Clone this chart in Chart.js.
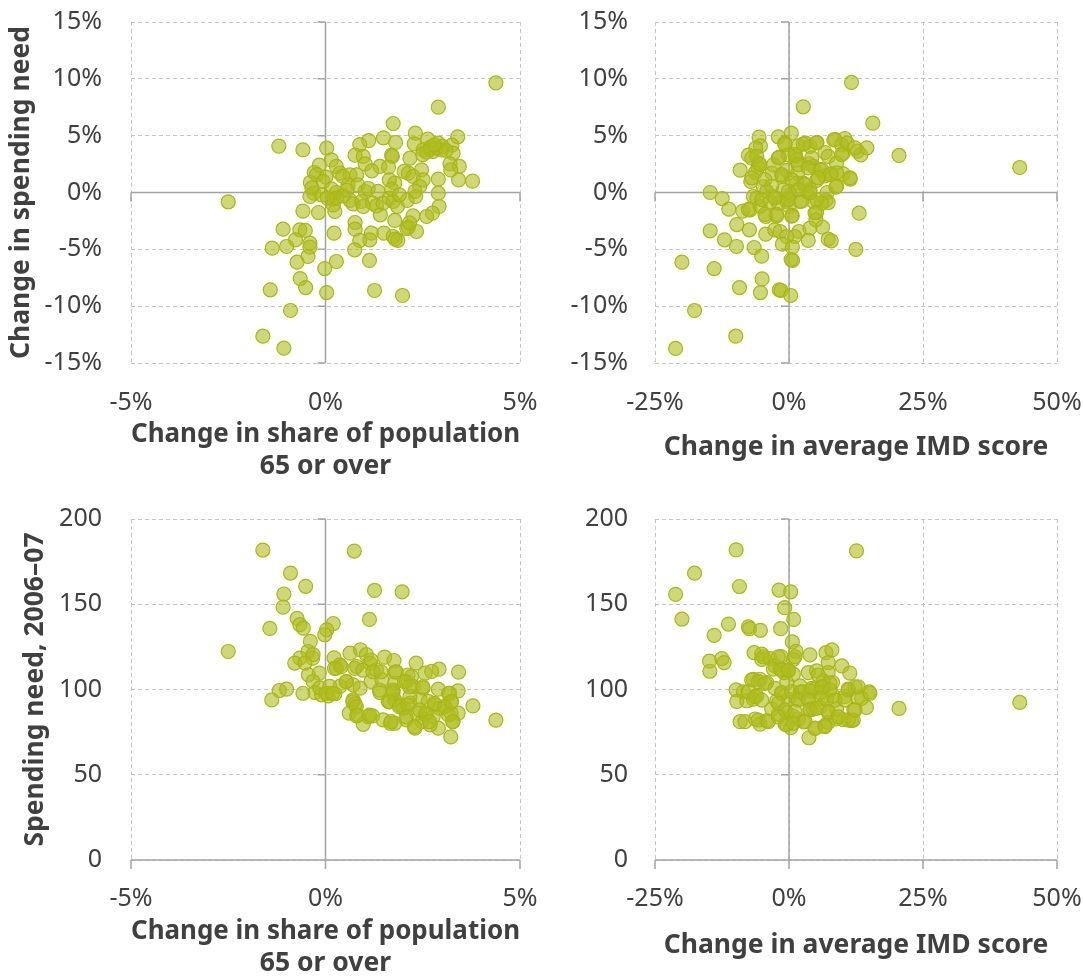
<!DOCTYPE html>
<html>
<head>
<meta charset="utf-8">
<script src="https://cdn.jsdelivr.net/npm/chart.js@4.4.1/dist/chart.umd.min.js"></script>
<style>
  html, body { margin: 0; padding: 0; background: #fff; }
  #wrap { position: relative; width: 1084px; height: 976px; overflow: hidden; }
  canvas { position: absolute; }
</style>
</head>
<body>
<div id="wrap">
  <canvas id="ageChange" width="542" height="490" style="left:0;top:0"></canvas>
  <canvas id="imdChange" width="542" height="490" style="left:542px;top:0"></canvas>
  <canvas id="ageLevel" width="542" height="500" style="left:0;top:490px"></canvas>
  <canvas id="imdLevel" width="542" height="500" style="left:542px;top:490px"></canvas>
</div>
<script>
// [change in share 65+ (%), change in spending need (%)]
const ageVsNeedChange = [
  [4.38,9.65],[2.90,7.51],[1.74,6.07],[-1.20,4.08],[-0.58,3.75],[0.03,3.90],[2.31,5.22],[3.40,4.90],
  [1.49,4.81],[1.11,4.57],[0.88,4.22],[1.80,4.40],[2.28,4.28],[2.63,4.69],[2.90,4.34],[3.25,4.16],
  [2.51,3.75],[2.77,3.61],[2.98,3.75],[3.28,3.46],[0.76,3.28],[0.97,3.17],[1.70,3.28],[1.72,3.17],
  [2.17,3.02],[0.15,2.87],[0.28,2.29],[1.02,2.52],[1.40,2.29],[1.62,2.23],[3.20,2.52],[3.44,2.29],
  [3.22,1.99],[-0.16,2.40],[-0.29,1.76],[-0.23,1.58],[0.01,1.35],[0.37,1.70],[0.63,1.55],[0.80,1.55],
  [1.19,1.91],[2.02,1.85],[2.13,1.70],[2.47,1.99],[2.25,1.41],[2.51,1.11],[2.90,1.17],[3.42,1.11],
  [3.78,1.00],[-0.39,0.88],[-0.06,0.97],[0.58,0.67],[0.83,0.67],[1.78,0.82],[1.64,1.11],[2.42,0.53],
  [2.90,-0.06],[-0.30,-0.06],[-0.40,-0.35],[0.15,0.32],[0.28,0.00],[0.20,-0.59],[1.02,0.09],[0.63,-0.70],
  [0.71,-1.00],[0.93,-0.79],[0.97,-1.23],[1.21,-0.94],[1.31,-1.17],[1.48,-0.94],[1.64,-0.50],[1.74,-0.79],
  [1.85,-1.23],[2.10,-0.70],[2.32,-0.35],[1.41,-1.96],[0.24,-1.67],[0.20,-1.09],[-0.18,-1.76],[-0.58,-1.64],
  [2.92,-1.23],[2.75,-1.82],[2.60,-2.11],[2.25,-2.05],[1.78,-2.46],[0.76,-2.64],[0.76,-3.23],[0.22,-3.58],
  [2.13,-3.05],[2.09,-3.17],[2.34,-3.43],[1.18,-3.58],[1.14,-4.16],[0.88,-4.22],[1.50,-3.58],[1.74,-3.87],
  [1.86,-4.22],[1.79,-4.11],[-1.09,-3.23],[-0.66,-3.28],[-0.52,-3.34],[-0.77,-4.16],[-0.40,-4.46],[-0.40,-4.81],
  [-1.00,-4.75],[-1.37,-4.90],[-0.45,-5.63],[-0.73,-6.13],[0.75,-5.04],[0.28,-6.07],[-0.02,-6.69],[1.13,-5.98],
  [-0.65,-7.57],[-0.51,-8.36],[-1.42,-8.56],[0.03,-8.80],[1.26,-8.62],[1.98,-9.06],[-0.90,-10.38],[-1.61,-12.64],
  [-1.07,-13.70],[-2.50,-0.82],[2.67,3.80],[2.50,3.34],[0.44,1.43],[0.28,-0.47],[2.16,-2.67],[2.70,4.00],
  [2.85,3.90],[3.00,4.05],[2.60,3.55],[3.10,3.70],[2.80,4.20],[-0.35,0.40],[-0.10,-0.20],[0.05,-0.50],
  [0.45,-0.30],[0.55,0.20],[1.10,0.35],[1.35,0.10],[1.70,0.30],[1.90,-0.20],[2.30,0.10]
];

// [change in average IMD score (%), change in spending need (%)]
const imdVsNeedChange = [
  [11.66,9.68],[2.67,7.54],[15.63,6.10],[20.53,3.26],[43.05,2.20],[-5.58,4.87],[-5.33,4.11],[-6.20,3.90],
  [-1.99,4.90],[0.43,5.22],[-0.81,4.34],[-1.80,3.11],[-7.57,3.28],[-6.95,3.02],[-5.65,2.58],[-5.77,2.20],
  [-9.12,1.96],[-6.27,1.76],[-7.13,0.97],[-3.16,1.70],[-1.24,1.41],[-0.37,1.94],[1.30,3.17],[1.74,4.11],
  [3.10,4.34],[3.91,4.05],[5.21,4.40],[3.78,2.52],[6.70,3.52],[7.32,3.17],[8.37,4.63],[10.42,4.75],
  [10.86,4.34],[10.11,3.46],[12.78,3.64],[13.40,3.31],[14.52,3.93],[8.87,2.58],[10.11,1.64],[11.41,1.17],
  [8.75,0.47],[7.13,0.00],[5.15,1.06],[6.70,1.47],[7.94,1.64],[1.61,1.70],[2.67,0.82],[3.91,0.23],
  [-4.78,0.53],[-6.64,-0.35],[-14.70,0.00],[-12.47,-0.53],[-11.23,-1.47],[-8.62,-1.64],[-7.26,-1.52],[-5.40,-1.23],
  [-3.54,-0.82],[-1.99,-0.94],[-0.43,-0.79],[0.31,-0.21],[0.06,-1.23],[2.05,-0.79],[4.53,-0.79],[6.89,-0.70],
  [7.32,-0.88],[5.15,-1.76],[-4.34,-2.11],[-2.30,-2.05],[0.62,-2.02],[5.02,-2.40],[3.91,-3.14],[6.27,-3.05],
  [-9.74,-2.82],[-7.38,-3.28],[-14.70,-3.37],[-4.34,-3.67],[-2.67,-3.28],[-1.67,-3.43],[1.86,-3.43],[1.05,-3.87],
  [-0.43,-3.87],[3.60,-4.22],[7.32,-4.11],[7.88,-4.25],[13.09,-1.82],[12.47,-5.01],[-12.03,-4.16],[-9.80,-4.75],
  [-6.51,-4.84],[-5.09,-5.60],[-1.24,-4.55],[0.62,-4.81],[0.68,-5.98],[0.40,-5.90],[-19.98,-6.13],[-13.96,-6.69],
  [-5.02,-7.60],[-9.24,-8.36],[-5.33,-8.80],[-1.80,-8.56],[-1.49,-8.62],[0.31,-9.06],[-17.62,-10.38],[-9.93,-12.64],
  [-21.15,-13.72],[-6.02,-0.50],[-4.16,0.09],[-2.92,-0.35],[-1.05,0.23],[1.43,0.82],[4.53,2.29],[5.77,1.99],
  [-2.92,2.43],[-0.12,3.31],[1.43,2.87],[3.29,0.09],[6.08,-0.94],[9.80,4.19],[-0.75,4.22],[2.67,4.28],
  [5.17,4.37],[8.58,4.66],[12.31,3.93],[-6.03,3.19],[-5.41,2.46],[-6.96,1.29],[-4.48,1.14],[-2.00,3.05],
  [1.12,3.34],[4.24,3.05],[9.83,3.34],[1.74,2.46],[3.60,2.17],[6.10,2.02],[7.65,1.58],[8.90,1.73],
  [11.38,1.29],[5.47,1.29],[2.99,0.70],[0.50,1.14],[-1.37,1.58],[-3.23,0.55],[8.90,0.55],[-5.09,-0.62],
  [-2.61,-0.47],[-0.13,-0.62],[2.36,-0.76],[5.17,-0.62],[-0.13,0.11],[1.74,0.26],[3.92,-0.03],[-4.48,-1.93],
  [-2.30,-1.93],[0.50,-2.08],[4.85,-1.79],[-7.59,-1.50]
];

// [change in share 65+ (%), spending need 2006-07]
const ageVsNeedLevel = [
  [-1.61,181.8],[0.74,181.2],[-0.90,168.3],[-0.51,160.5],[-1.07,156.0],[1.26,158.1],[1.97,157.3],[-1.09,148.3],
  [1.13,141.1],[-1.43,135.8],[-2.50,122.3],[-0.73,141.7],[-0.66,138.0],[-0.57,136.0],[0.20,138.7],[0.03,135.0],
  [-0.02,132.1],[-0.39,128.2],[-0.45,122.3],[-0.33,118.4],[-0.66,118.4],[-0.79,115.5],[-0.44,108.6],[-0.16,109.6],
  [-0.32,104.7],[0.22,118.6],[0.28,112.5],[0.37,114.5],[0.63,121.3],[0.90,123.3],[1.05,120.4],[0.80,113.5],
  [1.14,115.5],[1.52,119.0],[1.76,117.0],[1.31,111.5],[1.79,110.2],[2.33,115.5],[2.56,109.6],[2.92,111.9],
  [2.73,110.6],[3.42,110.2],[3.41,99.2],[3.79,90.4],[4.38,82.0],[3.22,72.2],[-1.19,99.4],[-1.00,100.2],
  [-1.38,93.9],[-0.58,97.8],[-0.27,98.2],[-0.10,96.9],[0.07,96.3],[0.24,97.5],[0.37,101.8],[0.54,104.7],
  [0.71,102.7],[0.89,100.8],[1.17,104.7],[1.45,105.7],[1.40,98.2],[0.71,93.9],[0.76,91.6],[0.61,86.1],
  [0.80,84.5],[0.97,79.6],[1.10,84.1],[1.21,84.5],[1.48,82.2],[1.67,80.2],[1.78,80.2],[1.74,98.8],
  [1.78,103.7],[1.61,93.0],[1.91,91.0],[2.08,82.2],[2.30,77.3],[2.08,104.7],[2.21,107.6],[2.25,101.8],
  [2.51,100.8],[2.90,100.2],[3.16,97.8],[3.24,93.0],[3.41,86.1],[3.28,81.2],[2.90,77.3],[2.69,79.3],
  [2.48,81.2],[2.01,89.0],[2.17,92.0],[2.43,93.9],[2.64,93.0],[2.81,91.0],[2.94,89.0],[3.07,90.0],
  [2.34,86.1],[2.56,85.1],[2.77,84.1],[3.16,85.1],[2.17,95.9],[1.78,93.9],[-0.32,120.4],[-0.53,115.5],
  [-0.15,101.0],[0.11,101.8],[0.23,112.4],[0.40,113.4],[0.75,112.4],[1.17,117.3],[0.96,111.4],[1.22,110.4],
  [1.43,110.4],[1.82,110.4],[2.12,108.5],[0.53,104.6],[1.39,99.7],[1.73,99.7],[2.03,104.6],[2.16,101.6],
  [2.50,101.6],[3.19,97.8],[0.02,97.8],[0.19,97.8],[0.70,92.8],[0.79,89.9],[0.83,85.0],[1.13,85.0],
  [1.69,81.1],[1.73,97.8],[1.65,92.8],[1.90,89.9],[2.12,90.9],[2.07,84.0],[2.29,78.2],[2.42,88.0],
  [2.59,86.0],[2.67,81.1],[2.80,91.9],[3.06,89.9],[3.23,86.0],[3.27,81.1],[3.23,92.8]
];

// [change in average IMD score (%), spending need 2006-07]
const imdVsNeedLevel = [
  [-9.86,181.9],[12.59,181.3],[-17.62,168.2],[-21.15,155.8],[-9.24,160.4],[-1.86,158.3],[0.31,157.3],[-0.81,148.0],
  [-19.98,141.3],[0.87,141.1],[-13.96,131.8],[-11.29,138.4],[-7.57,136.8],[-7.38,135.7],[-5.33,134.7],[-1.55,135.7],
  [0.62,127.9],[1.30,122.4],[3.91,120.3],[6.89,121.6],[8.00,123.2],[7.32,115.8],[9.86,113.8],[11.35,109.6],
  [-14.83,116.6],[-12.53,118.1],[-12.10,115.8],[-14.76,110.7],[-6.51,121.6],[-5.09,120.7],[-5.09,117.7],[-3.54,118.1],
  [-1.49,119.3],[-2.61,113.8],[-1.67,111.9],[-0.12,110.9],[0.81,117.7],[0.81,109.0],[3.60,109.9],[5.15,110.9],
  [7.32,109.9],[8.13,104.1],[6.39,105.1],[-6.64,106.0],[-5.40,106.0],[-4.16,104.1],[-9.86,99.8],[-8.50,98.6],
  [-9.74,93.0],[-7.88,93.4],[-6.64,94.3],[-6.02,96.3],[-2.30,93.4],[-1.36,98.2],[-0.12,94.3],[1.43,94.3],
  [2.05,98.2],[3.91,99.2],[4.84,100.2],[6.39,101.2],[5.77,98.2],[8.25,96.3],[10.42,95.9],[11.04,100.2],
  [12.34,101.6],[12.78,95.3],[14.95,98.6],[14.45,89.5],[12.10,88.1],[20.53,88.9],[43.05,92.4],[-9.12,81.1],
  [-6.33,82.7],[-5.40,79.7],[-4.16,81.7],[-3.23,88.5],[-1.99,85.6],[-0.74,79.7],[0.31,77.6],[1.74,82.7],
  [2.67,81.1],[3.72,71.7],[4.90,77.4],[6.70,78.8],[7.32,80.7],[8.87,82.7],[10.11,82.3],[11.66,81.7],
  [4.53,88.5],[5.77,89.5],[7.32,86.6],[8.87,88.5],[3.91,88.5],[-0.43,86.6],[0.68,84.6],[-2.92,111.9],
  [-0.43,104.1],[2.05,102.1],[7.01,94.3],[3.29,95.3],[-0.93,109.9],[-4.79,119.2],[-2.00,119.2],[1.12,119.2],
  [-1.37,111.4],[-0.13,111.4],[5.47,108.5],[7.65,103.6],[-6.96,105.6],[-5.73,104.6],[-4.48,103.6],[-7.59,98.7],
  [-6.34,95.8],[-5.09,93.8],[-2.61,100.7],[-1.37,97.8],[0.50,98.7],[2.36,98.7],[4.24,100.7],[6.10,101.6],
  [7.65,99.7],[11.07,99.7],[12.93,101.6],[13.56,94.8],[15.11,97.8],[1.74,93.8],[3.60,93.8],[6.10,94.8],
  [8.58,93.8],[10.45,93.8],[-2.00,91.9],[-0.75,88.0],[1.12,87.0],[3.92,88.0],[5.17,89.0],[7.34,87.0],
  [9.20,84.0],[11.07,82.1],[12.00,82.1],[12.31,88.0],[-5.73,82.1],[-3.86,81.1],[-2.00,84.0],[-0.43,79.2],
  [0.81,80.2],[2.99,81.1],[4.85,77.2],[6.72,78.2],[-8.21,81.1]
];

const ageTitle = ["Change in share of population", "65 or over"];
const imdTitle = "Change in average IMD score";
const needChangeTitle = "Change in spending need";
const needLevelTitle = "Spending need, 2006\u201307";

const FONT = "'Noto Sans', 'Open Sans', sans-serif";
const TEXT = "#404040";

// solid axis lines through zero, with short tick marks like the original
const zeroAxes = {
  id: "zeroAxes",
  beforeDatasetsDraw(chart) {
    const { ctx, chartArea: a, scales: { x, y } } = chart;
    const x0 = x.getPixelForValue(0);
    const y0 = y.getPixelForValue(0);
    ctx.save();
    ctx.strokeStyle = "#a3a3a3";
    ctx.lineWidth = 1.5;
    ctx.beginPath();
    ctx.moveTo(a.left, y0);
    ctx.lineTo(a.right, y0);
    ctx.moveTo(x0, a.top);
    ctx.lineTo(x0, a.bottom);
    y.ticks.forEach((t) => {
      const p = y.getPixelForValue(t.value);
      ctx.moveTo(x0 - 8, p);
      ctx.lineTo(x0, p);
    });
    x.ticks.forEach((t) => {
      const p = x.getPixelForValue(t.value);
      ctx.moveTo(p, y0);
      ctx.lineTo(p, y0 + 9);
    });
    ctx.stroke();
    ctx.restore();
  },
};

function scatterPanel(id, points, cfg) {
  const ctx = document.getElementById(id).getContext("2d");
  // tick marks are kept invisible; their length just spaces the labels off the plot
  const grid = (len) => ({
    color: "#c4c4c4",
    lineWidth: 1,
    drawTicks: true,
    tickLength: len,
    tickColor: "rgba(0,0,0,0)",
  });
  const border = { display: false, dash: [4, 3] };
  return new Chart(ctx, {
    type: "scatter",
    data: {
      datasets: [
        {
          data: points.map(([x, y]) => ({ x, y })),
          backgroundColor: "rgba(176, 189, 32, 0.6)",
          borderColor: "rgba(168, 183, 24, 1)",
          borderWidth: 1.2,
          pointRadius: 7,
          pointHoverRadius: 7,
        },
      ],
    },
    options: {
      responsive: false,
      animation: false,
      events: [],
      layout: { padding: cfg.padding },
      plugins: { legend: { display: false }, tooltip: { enabled: false } },
      scales: {
        x: {
          type: "linear",
          min: cfg.xMin,
          max: cfg.xMax,
          grid: grid(cfg.xTickLen),
          border: border,
          ticks: {
            stepSize: cfg.xStep,
            autoSkip: false,
            maxRotation: 0,
            padding: 0,
            color: TEXT,
            font: { family: FONT, size: 25 },
            callback: (v) => v + "%",
          },
          title: {
            display: true,
            text: cfg.xTitle,
            color: TEXT,
            padding: 0,
            font: { family: FONT, size: 26.5, weight: "bold", lineHeight: 1.2 },
          },
          afterFit: (s) => {
            s.height = cfg.xHeight;
          },
        },
        y: {
          type: "linear",
          min: cfg.yMin,
          max: cfg.yMax,
          grid: grid(cfg.yTickLen),
          border: border,
          ticks: {
            stepSize: cfg.yStep,
            autoSkip: false,
            padding: 0,
            color: TEXT,
            font: { family: FONT, size: 25 },
            callback: cfg.yFormat,
          },
          title: {
            display: !!cfg.yTitle,
            text: cfg.yTitle || "",
            color: TEXT,
            padding: { top: cfg.yTitlePad, bottom: 0 },
            font: { family: FONT, size: 26.5, weight: "bold", lineHeight: 1.2 },
          },
          afterFit: (s) => {
            s.width = cfg.yWidth;
          },
        },
      },
    },
    plugins: [zeroAxes],
  });
}

const pct = (v) => v + "%";
const plain = (v) => v;

scatterPanel("ageChange", ageVsNeedChange, {
  xMin: -5, xMax: 5, xStep: 5, yMin: -15, yMax: 15, yStep: 5,
  xTitle: ageTitle, yTitle: needChangeTitle, yFormat: pct,
  yWidth: 131, xHeight: 119.6, xTickLen: 25.3, yTickLen: 29, yTitlePad: 6,
  padding: { left: 0, top: 22, right: 22, bottom: 7.4 },
});

scatterPanel("imdChange", imdVsNeedChange, {
  xMin: -25, xMax: 50, xStep: 25, yMin: -15, yMax: 15, yStep: 5,
  xTitle: imdTitle, yTitle: null, yFormat: pct,
  yWidth: 113, xHeight: 99.9, xTickLen: 25.3, yTickLen: 27, yTitlePad: 0,
  padding: { left: 0, top: 22, right: 27, bottom: 27.1 },
});

scatterPanel("ageLevel", ageVsNeedLevel, {
  xMin: -5, xMax: 5, xStep: 5, yMin: 0, yMax: 200, yStep: 50,
  xTitle: ageTitle, yTitle: needLevelTitle, yFormat: plain,
  yWidth: 131, xHeight: 119.6, xTickLen: 24, yTickLen: 29, yTitlePad: 20,
  padding: { left: 0, top: 29, right: 22, bottom: 10.4 },
});

scatterPanel("imdLevel", imdVsNeedLevel, {
  xMin: -25, xMax: 50, xStep: 25, yMin: 0, yMax: 200, yStep: 50,
  xTitle: imdTitle, yTitle: null, yFormat: plain,
  yWidth: 113, xHeight: 100.9, xTickLen: 24, yTickLen: 27, yTitlePad: 0,
  padding: { left: 0, top: 29, right: 27, bottom: 29.1 },
});
</script>
</body>
</html>
